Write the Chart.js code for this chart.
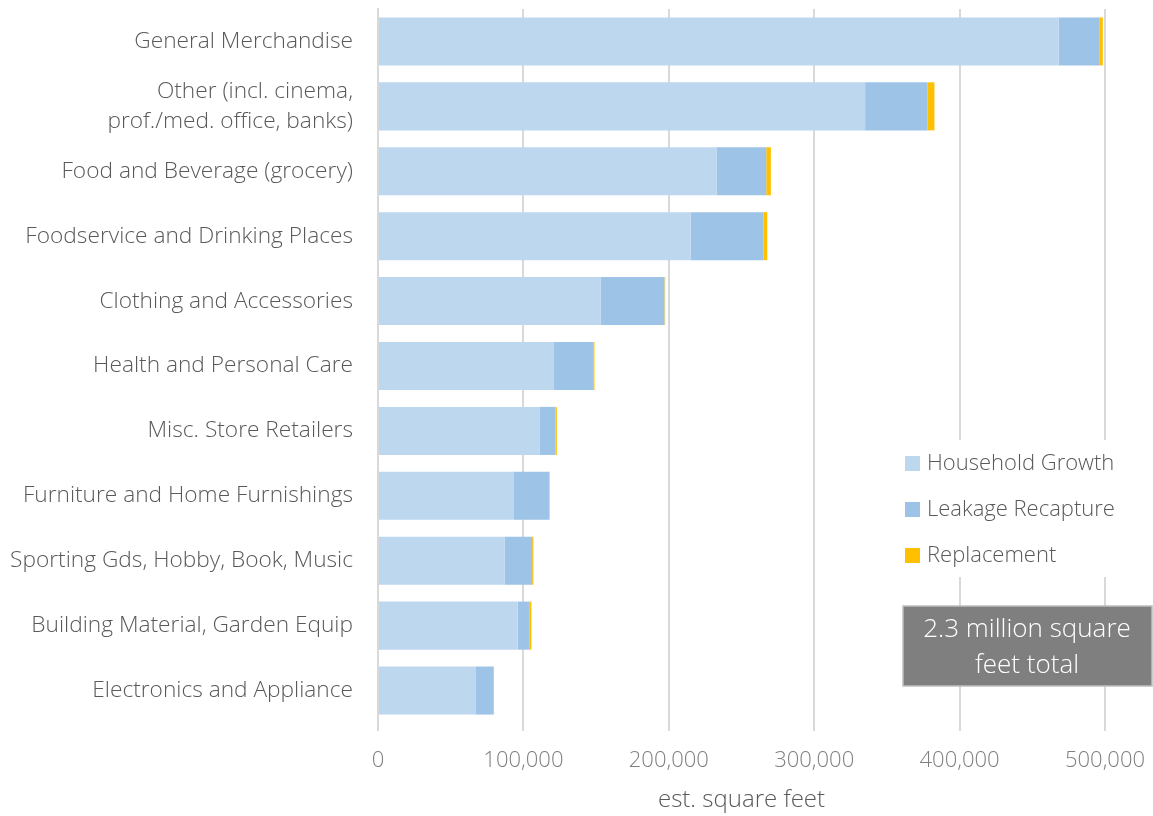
<!DOCTYPE html>
<html>
<head>
<meta charset="utf-8">
<script src="https://cdn.jsdelivr.net/npm/chart.js@4.4.1/dist/chart.umd.min.js"></script>
<style>
  html, body { margin: 0; padding: 0; background: #ffffff; }
  #wrap { width: 1153px; height: 816px; position: relative; }
</style>
</head>
<body>
<div id="wrap"><canvas id="c" width="1153" height="816"></canvas></div>
<script>
const categories = [
  "General Merchandise",
  ["Other (incl. cinema,", "prof./med. office, banks)"],
  "Food and Beverage (grocery)",
  "Foodservice and Drinking Places",
  "Clothing and Accessories",
  "Health and Personal Care",
  "Misc. Store Retailers",
  "Furniture and Home Furnishings",
  "Sporting Gds, Hobby, Book, Music",
  "Building Material, Garden Equip",
  "Electronics and Appliance"
];
const householdGrowth = [468000, 335000, 233000, 215000, 153000, 121000, 111000, 93500, 87000, 96000, 67000];
const leakageRecapture = [28000, 43000, 34000, 50000, 44000, 27000, 11000, 24300, 19000, 8000, 12500];
const replacement = [2500, 4700, 3200, 2700, 500, 900, 1000, 300, 900, 1500, 300];
const seriesNames = ["Household Growth", "Leakage Recapture", "Replacement"];
const seriesColors = ["#BDD7EE", "#9DC3E6", "#FFC000"];
const xTicks = [0, 100000, 200000, 300000, 400000, 500000];
const axisTitle = "est. square feet";
const noteLines = ["2.3 million square", "feet total"];

const FONT = "'Open Sans', 'DejaVu Sans', sans-serif";
const TEXT = "#595959";

const overlay = {
  id: 'overlay',
  afterDraw(chart) {
    const ctx = chart.ctx;
    ctx.save();
    ctx.fillStyle = '#ffffff';
    ctx.fillRect(896, 440, 257, 137);
    ctx.font = "300 22px " + FONT;
    ctx.textBaseline = 'middle';
    ctx.textAlign = 'left';
    const ys = [463, 509, 555];
    chart.data.datasets.forEach((ds, i) => {
      ctx.fillStyle = ds.backgroundColor;
      ctx.fillRect(905, ys[i] - 7, 15, 15);
      ctx.fillStyle = TEXT;
      ctx.fillText(ds.label, 927, ys[i] + 1);
    });
    ctx.fillStyle = '#7F7F7F';
    ctx.fillRect(903, 606, 249, 80);
    ctx.strokeStyle = '#BFBFBF';
    ctx.lineWidth = 1.5;
    ctx.strokeRect(903, 606, 249, 80);
    ctx.fillStyle = '#ffffff';
    ctx.font = "300 26px " + FONT;
    ctx.textAlign = 'center';
    ctx.fillText(noteLines[0], 1027, 630);
    ctx.fillText(noteLines[1], 1027, 666);
    ctx.restore();
  }
};

new Chart(document.getElementById('c'), {
  type: 'bar',
  data: {
    labels: categories,
    datasets: [
      { label: seriesNames[0], data: householdGrowth, backgroundColor: seriesColors[0] },
      { label: seriesNames[1], data: leakageRecapture, backgroundColor: seriesColors[1] },
      { label: seriesNames[2], data: replacement, backgroundColor: seriesColors[2] }
    ]
  },
  options: {
    indexAxis: 'y',
    responsive: false,
    animation: false,
    devicePixelRatio: 1,
    layout: { padding: { top: 9, right: 48, left: 0, bottom: 0 } },
    datasets: { bar: { categoryPercentage: 0.74, barPercentage: 1.0, borderWidth: 0 } },
    plugins: {
      legend: { display: false },
      tooltip: { enabled: false }
    },
    scales: {
      x: {
        stacked: true,
        min: 0, max: 500000,
        afterBuildTicks(scale) { scale.ticks = xTicks.map(v => ({ value: v })); },
        afterFit(scale) { scale.height = 93; scale.paddingLeft = 0; scale.paddingRight = 0; },
        grid: { color: '#D9D9D9', lineWidth: 2, drawTicks: true, tickLength: 8, tickColor: '#D9D9D9' },
        border: { display: false },
        ticks: {
          color: '#7F7F7F',
          font: { family: FONT, size: 22, weight: 300 },
          padding: 17,
          maxRotation: 0,
          callback: (v) => Number(v).toLocaleString('en-US')
        },
        title: {
          display: true, text: axisTitle, color: TEXT,
          font: { family: FONT, size: 24, weight: 300 },
          padding: { top: 2, bottom: 1 }
        }
      },
      y: {
        stacked: true,
        afterFit(scale) { scale.width = 378; scale.paddingTop = 0; scale.paddingBottom = 0; },
        grid: { display: false, drawTicks: false },
        border: { display: true, color: '#D9D9D9', width: 2 },
        ticks: {
          color: TEXT,
          font: { family: FONT, size: 22.7, weight: 300, lineHeight: 1.3 },
          padding: 25
        }
      }
    }
  },
  plugins: [overlay]
});
</script>
</body>
</html>
